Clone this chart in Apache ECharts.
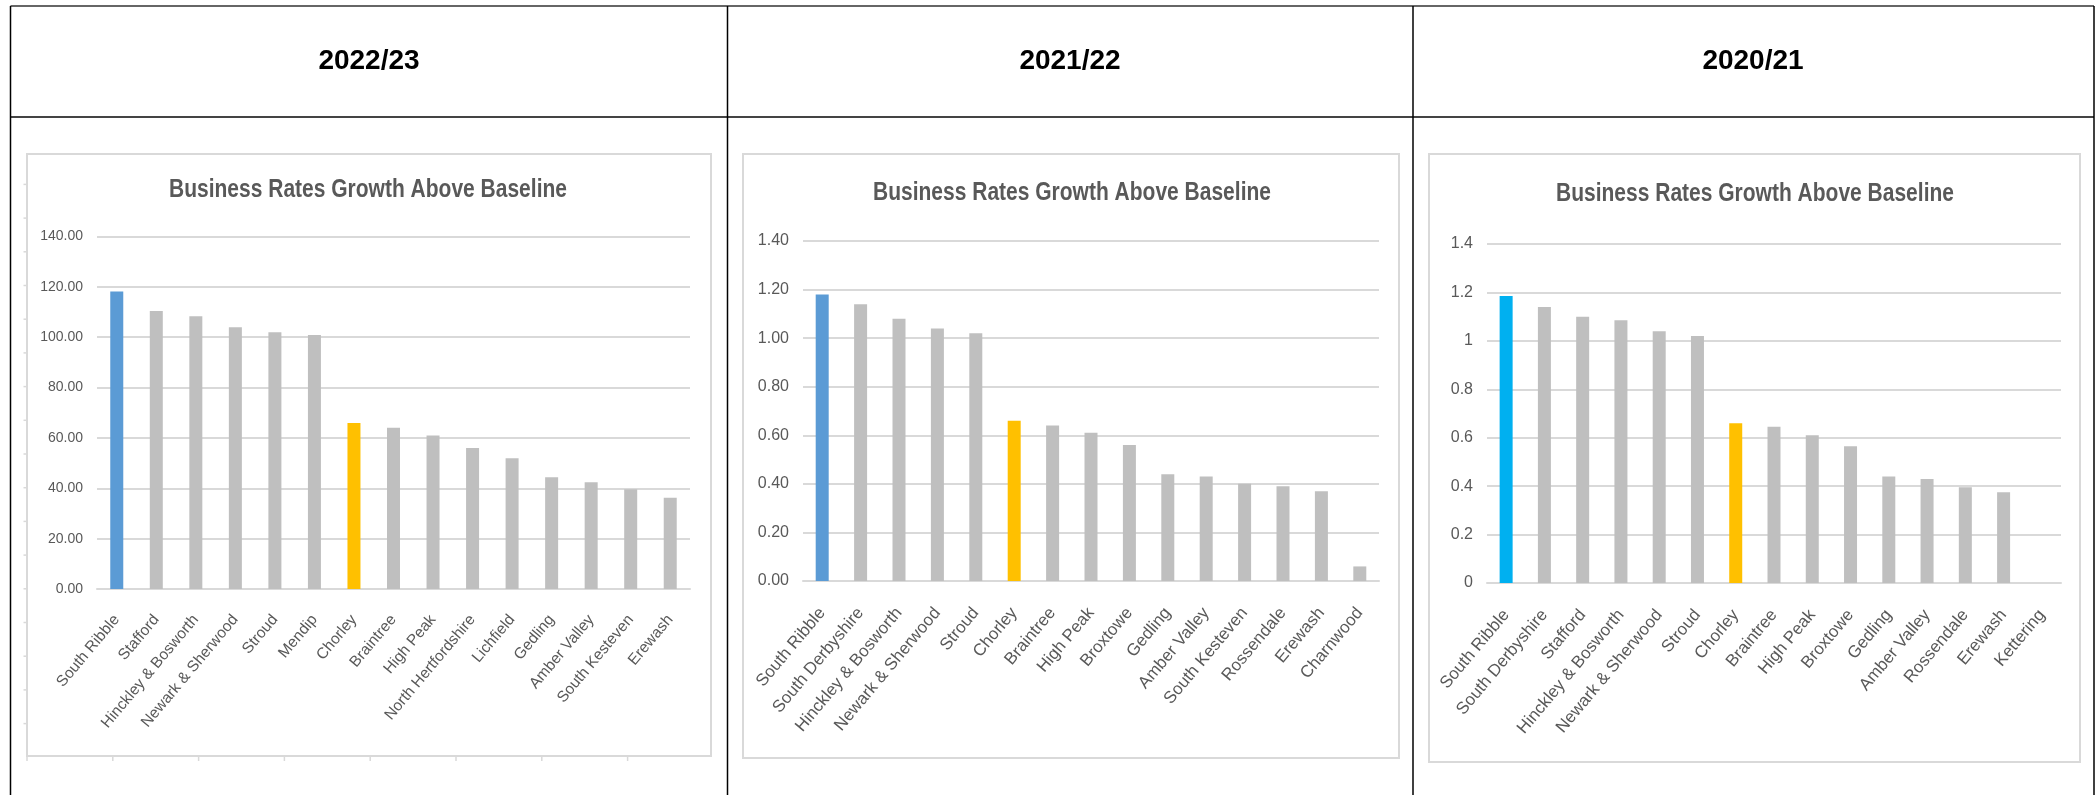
<!DOCTYPE html>
<html><head><meta charset="utf-8">
<script src="https://cdn.jsdelivr.net/npm/echarts@6/dist/echarts.min.js"></script>
<style>html,body{margin:0;padding:0;background:#fff}#c{width:2096px;height:795px}</style>
</head><body><div id="c"></div>
<script>
// ---- data ----
const headers = ['2022/23', '2021/22', '2020/21'];
const chartTitle = 'Business Rates Growth Above Baseline';

const cats2223 = ['South Ribble', 'Stafford', 'Hinckley & Bosworth', 'Newark & Sherwood', 'Stroud', 'Mendip', 'Chorley', 'Braintree', 'High Peak', 'North Hertfordshire', 'Lichfield', 'Gedling', 'Amber Valley', 'South Kesteven', 'Erewash'];
const vals2223 = [118.2, 110.4, 108.3, 104.0, 102.0, 100.9, 65.9, 64.0, 61.0, 56.0, 51.9, 44.4, 42.4, 39.6, 36.2];

const cats2122 = ['South Ribble', 'South Derbyshire', 'Hinckley & Bosworth', 'Newark & Sherwood', 'Stroud', 'Chorley', 'Braintree', 'High Peak', 'Broxtowe', 'Gedling', 'Amber Valley', 'South Kesteven', 'Rossendale', 'Erewash', 'Charnwood'];
const vals2122 = [1.18, 1.14, 1.08, 1.04, 1.02, 0.66, 0.64, 0.61, 0.56, 0.44, 0.43, 0.40, 0.39, 0.37, 0.06];

const cats2021 = ['South Ribble', 'South Derbyshire', 'Stafford', 'Hinckley & Bosworth', 'Newark & Sherwood', 'Stroud', 'Chorley', 'Braintree', 'High Peak', 'Broxtowe', 'Gedling', 'Amber Valley', 'Rossendale', 'Erewash', 'Kettering'];
const vals2021 = [1.185, 1.14, 1.10, 1.085, 1.04, 1.02, 0.66, 0.645, 0.61, 0.565, 0.44, 0.43, 0.395, 0.375, 0];

const yMax = [140, 1.4, 1.4];
const yInterval = [20, 0.2, 0.2];
const yDecimals = [2, 2, null];
const highlightName = 'South Ribble';
const ownName = 'Chorley';

// ---- styles / layout ----
const GRAY = '#BFBFBF', YELLOW = '#FFC000';
const BLUES = ['#5B9BD5', '#5B9BD5', '#00B0F0'];
const TXT = '#595959';
const SANS = "'Liberation Sans', Arial, sans-serif";

const panels = [
  {cats: cats2223, vals: vals2223, grid: {left: 97, top: 236.5, width: 593, height: 352.5}, box: [27, 154, 684, 602], title: [368, 190], header: 369, yFont: 14, xFont: 15.5, xMargin: 28},
  {cats: cats2122, vals: vals2122, grid: {left: 803, top: 241, width: 576, height: 340}, box: [743, 154, 656, 604], title: [1072, 193], header: 1070, yFont: 16, xFont: 17, xMargin: 29},
  {cats: cats2021, vals: vals2021, grid: {left: 1487, top: 244, width: 574, height: 339}, box: [1429, 154, 651, 608], title: [1755, 194], header: 1753, yFont: 16, xFont: 17, xMargin: 29}
];

const chart = echarts.init(document.getElementById('c'), null, {renderer: 'canvas'});

const graphics = [];
// table lines
const lineStyle = {stroke: '#000', lineWidth: 1.5};
graphics.push({type: 'line', shape: {x1: 10.5, y1: 6, x2: 2094, y2: 6}, style: {stroke: '#333', lineWidth: 1.5}});
graphics.push({type: 'line', shape: {x1: 10.5, y1: 117, x2: 2094, y2: 117}, style: {stroke: '#444', lineWidth: 2}});
[10.5, 727.5, 1413, 2094].forEach(x => graphics.push({type: 'line', shape: {x1: x, y1: 6, x2: x, y2: 795}, style: lineStyle}));

// faint edge ticks around the first embedded picture
const tickStyle = {stroke: '#D9D9D9', lineWidth: 1.5};
for (let y = 184.4; y < 756; y += 33.7) graphics.push({type: 'line', shape: {x1: 23.5, y1: y, x2: 27, y2: y}, style: tickStyle});
for (let x = 27; x < 711; x += 85.8) graphics.push({type: 'line', shape: {x1: x, y1: 756, x2: x, y2: 761}, style: tickStyle});

panels.forEach((p, i) => {
  graphics.push({type: 'rect', shape: {x: p.box[0], y: p.box[1], width: p.box[2], height: p.box[3]}, style: {fill: 'none', stroke: '#D9D9D9', lineWidth: 2}, z: 0});
  graphics.push({type: 'text', x: p.header, y: 61, style: {text: headers[i], fill: '#000', font: "bold 28px " + SANS, align: 'center', verticalAlign: 'middle'}});
  graphics.push({type: 'text', x: p.title[0], y: p.title[1], scaleX: 0.84, style: {text: chartTitle, fill: TXT, font: "bold 25px " + SANS, align: 'center', verticalAlign: 'middle'}});
});

const option = {
  animation: false,
  backgroundColor: '#fff',
  graphic: graphics,
  grid: panels.map(p => Object.assign({containLabel: false, outerBoundsMode: 'none'}, p.grid)),
  xAxis: panels.map((p, i) => ({
    type: 'category', gridIndex: i, data: p.cats,
    axisLine: {lineStyle: {color: '#D9D9D9', width: 2}},
    axisTick: {show: false},
    axisLabel: {interval: 0, rotate: 50, margin: p.xMargin, color: TXT, fontSize: p.xFont, fontFamily: SANS}
  })),
  yAxis: panels.map((p, i) => ({
    type: 'value', gridIndex: i, min: 0, max: yMax[i], interval: yInterval[i],
    axisLine: {show: false}, axisTick: {show: false},
    splitLine: {lineStyle: {color: '#D9D9D9', width: 2}},
    axisLabel: {margin: 14, color: TXT, fontSize: p.yFont, fontFamily: SANS,
      formatter: v => yDecimals[i] == null ? String(+v.toFixed(4)) : v.toFixed(yDecimals[i])}
  })),
  series: panels.map((p, i) => ({
    type: 'bar', xAxisIndex: i, yAxisIndex: i, data: p.vals, barWidth: 13,
    itemStyle: {color: params => params.name === highlightName ? BLUES[i] : (params.name === ownName ? YELLOW : GRAY)}
  }))
};
chart.setOption(option);
</script>
</body></html>
